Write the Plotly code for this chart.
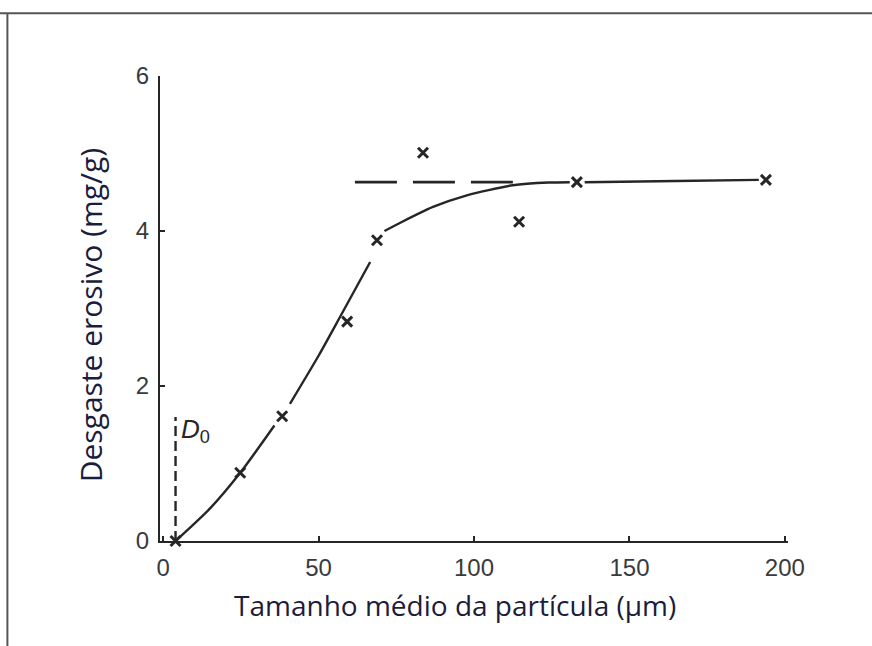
import plotly.graph_objects as go

# Measured points (particle size µm, erosive wear mg/g)
pts_x = [4, 24.8, 38.3, 59.2, 68.8, 83.6, 114.5, 133.1, 193.9]
pts_y = [0, 0.88, 1.61, 2.83, 3.88, 5.01, 4.12, 4.63, 4.66]

# Fitted curve; None marks where the drawn line is broken around a marker
curve_x = [4, 15.1, 24.8, 35.8, None, 40.8, 50.0, 56.9, 66.6, None, 71.2, 76.0, 86.8, 97.7, 112.5, 124.0, 130.8,
           None, 135.6, 165.0, 191.6]
curve_y = [0, 0.42, 0.88, 1.49, None, 1.77, 2.39, 2.89, 3.60, None, 4.00, 4.10, 4.31, 4.46, 4.59, 4.625, 4.63,
           None, 4.63, 4.645, 4.66]

# Plateau (dashed) and D0 (dashed) guide lines
plateau_x = [61.7, 112.5]
plateau_y = [4.63, 4.63]
d0_x = [4, 4]
d0_y = [0, 1.6]

x_ticks = [0, 50, 100, 150, 200]
y_ticks = [0, 2, 4, 6]

ink = "#262626"
title_col = "#1c1c3c"
tick_font = dict(family="Liberation Sans", size=24, color="#3a3a3a")

fig = go.Figure()
fig.add_trace(go.Scatter(x=curve_x, y=curve_y, mode="lines", connectgaps=False,
                         line=dict(color=ink, width=2.4, shape="spline", smoothing=0.7),
                         hoverinfo="skip"))
fig.add_trace(go.Scatter(x=plateau_x, y=plateau_y, mode="lines",
                         line=dict(color=ink, width=2.8, dash="42px,16px"),
                         hoverinfo="skip"))
fig.add_trace(go.Scatter(x=d0_x, y=d0_y, mode="lines",
                         line=dict(color=ink, width=2.4, dash="10px,5px"),
                         hoverinfo="skip", cliponaxis=False))
fig.add_trace(go.Scatter(x=pts_x, y=pts_y, mode="markers",
                         marker=dict(symbol="x-thin-open", size=10, color=ink,
                                     line=dict(color=ink, width=3)),
                         cliponaxis=False))

fig.update_layout(
    width=872, height=646,
    margin=dict(l=160, r=84, t=76, b=105),
    paper_bgcolor="white", plot_bgcolor="white",
    showlegend=False,
    xaxis=dict(range=[-1, 201], tickvals=x_ticks, ticks="inside", ticklen=5,
               tickwidth=2, tickcolor=ink, showline=True, linecolor=ink,
               linewidth=2.2, showgrid=False, zeroline=False,
               ticklabelstandoff=4, tickfont=tick_font),
    yaxis=dict(range=[0, 6], tickvals=y_ticks, ticks="inside", ticklen=5,
               tickwidth=2, tickcolor=ink, showline=True, linecolor=ink,
               linewidth=2.2, showgrid=False, zeroline=False,
               ticklabelstandoff=4, tickfont=tick_font),
    font=dict(family="Liberation Sans"),
)

fig.add_annotation(text="Tamanho médio da partícula (µm)", xref="paper", yref="paper",
                   x=0.47, y=-0.138, xanchor="center", yanchor="middle", showarrow=False,
                   font=dict(family="Open Sans", size=28, color=title_col))
fig.add_annotation(text="Desgaste erosivo (mg/g)", xref="paper", yref="paper",
                   x=-0.111, y=0.486, xanchor="center", yanchor="middle", textangle=-90,
                   showarrow=False,
                   font=dict(family="Open Sans", size=30, color=title_col))
fig.add_annotation(text="<i>D</i><sub>0</sub>", x=5.0, y=1.42, xanchor="left",
                   yanchor="middle", showarrow=False,
                   font=dict(family="Liberation Sans", size=26, color=ink))

# Frame of the scanned figure (top and left edges)
fig.add_shape(type="line", xref="paper", yref="paper", x0=-0.26, x1=1.2, y0=1.135, y1=1.135,
              line=dict(color="#555555", width=2))
fig.add_shape(type="line", xref="paper", yref="paper", x0=-0.243, x1=-0.243, y0=-0.23, y1=1.135,
              line=dict(color="#555555", width=2))

fig.write_html("out.html")
